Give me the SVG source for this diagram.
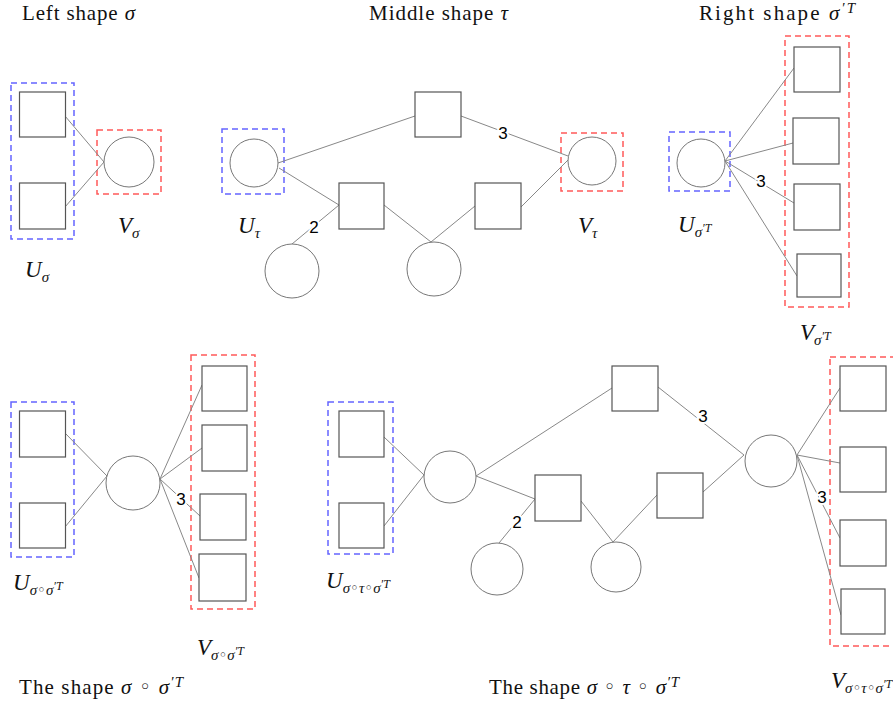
<svg xmlns="http://www.w3.org/2000/svg" width="893" height="709" viewBox="0 0 893 709">
  <style>
    .sq { fill: #fff; stroke: #555; stroke-width: 1.2; }
    .ci { fill: #fff; stroke: #777; stroke-width: 1; }
    .edge { stroke: #888; stroke-width: 1; fill: none; }
    .grpU { fill: none; stroke: #6464ff; stroke-width: 1.5; stroke-dasharray: 6 4; }
    .grpV { fill: none; stroke: #ff5a5a; stroke-width: 1.5; stroke-dasharray: 6 4; }
    .title { font-family: "Liberation Serif", "DejaVu Serif", serif; font-size: 21px; fill: #111; }
    .lbl { font-family: "Liberation Serif", "DejaVu Serif", serif; font-size: 23px; font-style: italic; fill: #111; }
    .it { font-style: italic; }
    .op { font-family: "DejaVu Sans", sans-serif; font-style: normal; }
    .sub { font-size: 15px; font-style: italic; }
    .sup { font-size: 12px; font-style: italic; }
    .tsup { font-size: 15px; font-style: italic; }
    .mult { font-family: "Liberation Sans", Arial, sans-serif; font-size: 17px; fill: #000; stroke: #fff; stroke-width: 4; paint-order: stroke; text-anchor: middle; }
  </style>

  <!-- headings -->
  <text class="title" x="22" y="20" textLength="113" lengthAdjust="spacing">Left shape <tspan class="it">σ</tspan></text>
  <text class="title" x="369" y="20" textLength="139" lengthAdjust="spacing">Middle shape <tspan class="it">τ</tspan></text>
  <text class="title" x="699" y="20" textLength="156" lengthAdjust="spacing">Right shape <tspan class="it">σ</tspan><tspan class="tsup" dy="-7">′T</tspan></text>
  <text class="title" x="19" y="694" textLength="164" lengthAdjust="spacing">The shape <tspan class="it">σ</tspan> <tspan class="op">◦</tspan> <tspan class="it">σ</tspan><tspan class="tsup" dy="-7">′T</tspan></text>
  <text class="title" x="489" y="694" textLength="190" lengthAdjust="spacing">The shape <tspan class="it">σ</tspan> <tspan class="op">◦</tspan> <tspan class="it">τ</tspan> <tspan class="op">◦</tspan> <tspan class="it">σ</tspan><tspan class="tsup" dy="-7">′T</tspan></text>

  <!-- vertex-set labels -->
  <text class="lbl" x="25" y="277">U<tspan class="sub" dy="5">σ</tspan></text>
  <text class="lbl" x="118" y="233">V<tspan class="sub" dy="5">σ</tspan></text>
  <text class="lbl" x="238" y="233">U<tspan class="sub" dy="5">τ</tspan></text>
  <text class="lbl" x="578" y="233">V<tspan class="sub" dy="5">τ</tspan></text>
  <text class="lbl" x="678" y="232">U<tspan class="sub" dy="5">σ</tspan><tspan class="sup" dy="-5">′T</tspan></text>
  <text class="lbl" x="800" y="340">V<tspan class="sub" dy="5">σ</tspan><tspan class="sup" dy="-5">′T</tspan></text>
  <text class="lbl" x="13" y="590">U<tspan class="sub" dy="5">σ<tspan class="op">◦</tspan>σ</tspan><tspan class="sup" dy="-5">′T</tspan></text>
  <text class="lbl" x="197" y="655">V<tspan class="sub" dy="5">σ<tspan class="op">◦</tspan>σ</tspan><tspan class="sup" dy="-5">′T</tspan></text>
  <text class="lbl" x="326" y="588">U<tspan class="sub" dy="5">σ<tspan class="op">◦</tspan>τ<tspan class="op">◦</tspan>σ</tspan><tspan class="sup" dy="-5">′T</tspan></text>
  <text class="lbl" x="831" y="688">V<tspan class="sub" dy="5">σ<tspan class="op">◦</tspan>τ<tspan class="op">◦</tspan>σ</tspan><tspan class="sup" dy="-5">′T</tspan></text>

  <!-- dashed vertex-set frames -->
  <g id="frames">
    <rect class="grpU" x="11" y="83" width="63" height="156"/>
    <rect class="grpV" x="97" y="130" width="64" height="64"/>
    <rect class="grpU" x="222" y="129" width="62" height="65"/>
    <rect class="grpV" x="561" y="133" width="62" height="58"/>
    <rect class="grpU" x="669" y="132" width="61" height="59"/>
    <rect class="grpV" x="785" y="36" width="64" height="271"/>
    <rect class="grpU" x="11" y="402" width="63" height="155"/>
    <rect class="grpV" x="191" y="355" width="64" height="254"/>
    <rect class="grpU" x="328" y="402" width="65" height="152"/>
    <rect class="grpV" x="830" y="357" width="70" height="289"/>
  </g>

  <!-- edges -->
  <g id="connectors">
    <!-- sigma -->
    <line class="edge" x1="65" y1="116" x2="104" y2="162"/>
    <line class="edge" x1="65" y1="207" x2="104" y2="162"/>
    <!-- tau -->
    <line class="edge" x1="278" y1="163" x2="415" y2="116"/>
    <line class="edge" x1="279" y1="168" x2="339" y2="205"/>
    <line class="edge" x1="461" y1="116" x2="568" y2="156"/>
    <line class="edge" x1="521" y1="207" x2="568" y2="160"/>
    <line class="edge" x1="339" y1="205" x2="292" y2="244"/>
    <line class="edge" x1="384" y1="205" x2="431" y2="242"/>
    <line class="edge" x1="475" y1="206" x2="431" y2="242"/>
    <!-- sigma' transpose -->
    <line class="edge" x1="725" y1="161" x2="794" y2="68"/>
    <line class="edge" x1="725" y1="161" x2="793" y2="143"/>
    <line class="edge" x1="725" y1="161" x2="794" y2="203"/>
    <line class="edge" x1="725" y1="161" x2="797" y2="276"/>
    <!-- sigma o sigma' transpose -->
    <line class="edge" x1="65" y1="433" x2="107" y2="476"/>
    <line class="edge" x1="65" y1="527" x2="107" y2="476"/>
    <line class="edge" x1="160" y1="479" x2="202" y2="385"/>
    <line class="edge" x1="160" y1="479" x2="202" y2="448"/>
    <line class="edge" x1="160" y1="479" x2="200" y2="516"/>
    <line class="edge" x1="160" y1="479" x2="199" y2="578"/>
    <!-- sigma o tau o sigma' transpose -->
    <line class="edge" x1="384" y1="437" x2="424" y2="475"/>
    <line class="edge" x1="384" y1="526" x2="424" y2="475"/>
    <line class="edge" x1="476" y1="476" x2="612" y2="388"/>
    <line class="edge" x1="476" y1="476" x2="535" y2="499"/>
    <line class="edge" x1="535" y1="499" x2="499" y2="543"/>
    <line class="edge" x1="581" y1="501" x2="613" y2="542"/>
    <line class="edge" x1="657" y1="495" x2="613" y2="542"/>
    <line class="edge" x1="658" y1="387" x2="744" y2="455"/>
    <line class="edge" x1="703" y1="492" x2="744" y2="455"/>
    <line class="edge" x1="797" y1="455" x2="840" y2="388"/>
    <line class="edge" x1="797" y1="455" x2="840" y2="463"/>
    <line class="edge" x1="797" y1="455" x2="840" y2="538"/>
    <line class="edge" x1="797" y1="455" x2="841" y2="615"/>
  </g>

  <!-- edge multiplicities -->
  <g id="multiplicities">
    <text class="mult" x="503" y="139">3</text>
    <text class="mult" x="314" y="233">2</text>
    <text class="mult" x="761" y="187">3</text>
    <text class="mult" x="181" y="505">3</text>
    <text class="mult" x="517" y="528">2</text>
    <text class="mult" x="703" y="422">3</text>
    <text class="mult" x="822" y="503">3</text>
  </g>

  <!-- sigma -->
  <g id="s-u1"><rect class="sq" x="19.5" y="92" width="46" height="45"/></g>
  <g id="s-u2"><rect class="sq" x="19.5" y="183" width="46" height="46"/></g>
  <g id="s-v"><circle class="ci" cx="129" cy="162" r="25"/></g>

  <!-- tau -->
  <g id="t-u"><circle class="ci" cx="254" cy="163" r="24"/></g>
  <g id="t-top"><rect class="sq" x="415" y="92" width="46" height="45"/></g>
  <g id="t-left"><rect class="sq" x="339" y="183" width="45" height="46"/></g>
  <g id="t-right"><rect class="sq" x="475" y="183" width="46" height="46"/></g>
  <g id="t-v"><circle class="ci" cx="592" cy="161" r="24"/></g>
  <g id="t-low1"><circle class="ci" cx="292" cy="271" r="27"/></g>
  <g id="t-low2"><circle class="ci" cx="434" cy="269" r="27"/></g>

  <!-- sigma' transpose -->
  <g id="r-u"><circle class="ci" cx="701" cy="163" r="24"/></g>
  <g id="r-v1"><rect class="sq" x="794" y="47" width="46" height="45"/></g>
  <g id="r-v2"><rect class="sq" x="793" y="118" width="46" height="46"/></g>
  <g id="r-v3"><rect class="sq" x="794" y="184" width="46" height="46"/></g>
  <g id="r-v4"><rect class="sq" x="797" y="254" width="44" height="43"/></g>

  <!-- sigma o sigma' transpose -->
  <g id="c1-u1"><rect class="sq" x="19.5" y="411" width="46" height="46"/></g>
  <g id="c1-u2"><rect class="sq" x="19.5" y="503" width="46" height="45"/></g>
  <g id="c1-mid"><circle class="ci" cx="133" cy="483" r="27"/></g>
  <g id="c1-v1"><rect class="sq" x="202" y="366" width="45" height="45"/></g>
  <g id="c1-v2"><rect class="sq" x="202" y="425" width="45" height="46"/></g>
  <g id="c1-v3"><rect class="sq" x="200" y="494" width="46" height="46"/></g>
  <g id="c1-v4"><rect class="sq" x="199" y="554" width="47" height="47"/></g>

  <!-- sigma o tau o sigma' transpose -->
  <g id="c2-u1"><rect class="sq" x="339" y="411" width="45" height="46"/></g>
  <g id="c2-u2"><rect class="sq" x="339" y="503" width="45" height="45"/></g>
  <g id="c2-a"><circle class="ci" cx="450" cy="477" r="26"/></g>
  <g id="c2-top"><rect class="sq" x="612" y="366" width="46" height="45"/></g>
  <g id="c2-left"><rect class="sq" x="535" y="475" width="46" height="46"/></g>
  <g id="c2-right"><rect class="sq" x="657" y="473" width="46" height="45"/></g>
  <g id="c2-low1"><circle class="ci" cx="497" cy="569" r="26"/></g>
  <g id="c2-low2"><circle class="ci" cx="616" cy="567" r="25"/></g>
  <g id="c2-b"><circle class="ci" cx="771" cy="461" r="26"/></g>
  <g id="c2-v1"><rect class="sq" x="840" y="366" width="46" height="45"/></g>
  <g id="c2-v2"><rect class="sq" x="840" y="447" width="46" height="45"/></g>
  <g id="c2-v3"><rect class="sq" x="840" y="520" width="46" height="46"/></g>
  <g id="c2-v4"><rect class="sq" x="841" y="589" width="44" height="45"/></g>
</svg>
